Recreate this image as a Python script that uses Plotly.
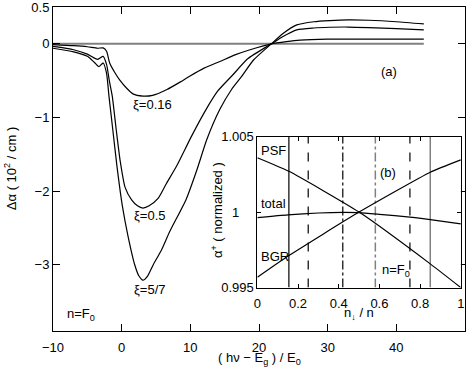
import plotly.graph_objects as go

# ---- main panel (a) data ----
x_57 = [-10, -7, -5, -4, -3.3, -2.7, -2.2, -1.85, -1.3, -0.7, 0.1, 0.9, 1.9, 2.5, 3.1, 3.8, 4.6, 5.8, 7.0, 9.4, 11, 12.4, 14.3, 16, 17.5, 19.2, 21.8, 23.5, 25.5, 28, 30.3, 33, 36, 40, 44]
y_57 = [-0.06, -0.11, -0.17, -0.25, -0.31, -0.26, -0.40, -0.71, -1.16, -1.65, -2.2, -2.6, -3.0, -3.15, -3.21, -3.15, -3.0, -2.8, -2.55, -2.11, -1.7, -1.30, -0.89, -0.62, -0.44, -0.22, 0.0, 0.14, 0.257, 0.30, 0.315, 0.325, 0.32, 0.30, 0.27]

x_05 = [-10, -7, -5, -3.5, -2.7, -2.2, -1.8, -1.37, -0.8, -0.2, 0.5, 1.45, 2.3, 3.1, 4.0, 5.3, 6.5, 8.0, 10.2, 12.3, 14, 16.2, 18.4, 21.8, 23.5, 25.5, 28, 30.3, 33, 36, 40, 44]
y_05 = [-0.035, -0.08, -0.14, -0.21, -0.17, -0.28, -0.5, -0.71, -1.16, -1.6, -1.95, -2.12, -2.2, -2.23, -2.2, -2.1, -1.9, -1.66, -1.25, -0.89, -0.64, -0.42, -0.2, 0.0, 0.1, 0.19, 0.215, 0.225, 0.228, 0.22, 0.205, 0.19]

x_016 = [-10, -7, -5, -3.5, -2.7, -2.2, -1.75, -1, -0.3, 0.7, 1.64, 3.1, 4.5, 6.6, 8.5, 9.9, 12, 14.3, 16.5, 18.7, 21.8, 24, 26, 30, 35, 44]
y_016 = [-0.01, -0.025, -0.04, -0.06, -0.055, -0.1, -0.26, -0.39, -0.49, -0.6, -0.68, -0.71, -0.70, -0.62, -0.52, -0.44, -0.33, -0.24, -0.15, -0.08, 0.0, 0.03, 0.05, 0.063, 0.065, 0.065]

x_zero = [-10, 44]
y_zero = [0, 0]

main_xticks = [-10, 0, 10, 20, 30, 40]
main_yticks = [-3, -2, -1, 0, 0.5]

# ---- inset (b) data ----
x_psf = [0, 0.155, 0.5, 0.85, 1]
y_psf = [1.0036, 1.0027, 1.0, 0.99657, 0.9950]
x_bgr = [0, 0.155, 0.5, 0.85, 1]
y_bgr = [0.99568, 0.99712, 1.0, 1.00264, 1.00346]
x_tot = [0, 0.15, 0.3, 0.42, 0.5, 0.6, 0.75, 0.85, 1]
y_tot = [0.99964, 0.99982, 0.99994, 0.99998, 0.99996, 0.99985, 0.99967, 0.9995, 0.99922]

vlines = [0.155, 0.25, 0.42, 0.58, 0.75, 0.85]
vstyles = [("black", "solid"), ("black", "dash"), ("black", "dashdot"),
           ("#808080", "dashdot"), ("black", "dash"), ("#808080", "solid")]

inset_xticks = [0, 0.2, 0.4, 0.6, 0.8, 1]
inset_xlabels = ["0", "0.2", "0.4", "0.6", "0.8", "1"]
inset_yticks = [0.995, 1.0, 1.005]
inset_ylabels = ["0.995", "1\u00a0\u00a0\u00a0\u00a0", "1.005"]

FONT = "Liberation Sans, Arial, Helvetica, sans-serif"

fig = go.Figure()
fig.add_trace(go.Scatter(x=x_zero, y=y_zero, mode="lines", line=dict(color="#808080", width=2), xaxis="x", yaxis="y"))
for xs, ys in [(x_016, y_016), (x_05, y_05), (x_57, y_57)]:
    fig.add_trace(go.Scatter(x=xs, y=ys, mode="lines", line=dict(color="black", width=1.2, shape="spline", smoothing=0.6), xaxis="x", yaxis="y"))

for v, (c, d) in zip(vlines, vstyles):
    fig.add_trace(go.Scatter(x=[v, v], y=[0.995, 1.005], mode="lines", line=dict(color=c, width=1.5 if c != "black" else 1.2, dash=d), xaxis="x2", yaxis="y2"))
for xs, ys in [(x_psf, y_psf), (x_bgr, y_bgr), (x_tot, y_tot)]:
    fig.add_trace(go.Scatter(x=xs, y=ys, mode="lines", line=dict(color="black", width=1.2, shape="spline", smoothing=0.5), xaxis="x2", yaxis="y2"))

axis_common = dict(showline=True, linecolor="black", linewidth=1, mirror="ticks", ticks="inside", automargin=False,
                   ticklabeloverflow="allow",
                   tickcolor="black", showgrid=False, zeroline=False, tickfont=dict(size=13, color="black", family=FONT))

fig.update_layout(
    width=469, height=374,
    margin=dict(l=53, r=4, t=7, b=43),
    paper_bgcolor="white", plot_bgcolor="white",
    showlegend=False,
    font=dict(family=FONT, size=13, color="black"),
    xaxis=dict(range=[-10, 50], tickvals=main_xticks, ticklen=7, domain=[0, 1], ticklabelstandoff=4, **axis_common),
    yaxis=dict(range=[-3.9, 0.5], tickvals=main_yticks, ticklen=7, domain=[0, 1], **axis_common),
    xaxis2=dict(range=[0, 1.0005], tickvals=inset_xticks, ticktext=inset_xlabels, ticklen=4,
                domain=[0.496, 0.990], anchor="y2", ticklabelstandoff=4, **axis_common),
    yaxis2=dict(range=[0.995, 1.005], tickvals=inset_yticks, ticktext=inset_ylabels, ticklen=4,
                domain=[0.134, 0.600], anchor="x2", **axis_common),
)

ann = [
    dict(text="Δα ( 10<sup>2</sup> / cm )", x=-0.104, y=0.5, xref="paper", yref="paper", textangle=-90),
    dict(text="( hν − E<sub>g</sub> ) / E<sub>0</sub>", x=0.5, y=-0.086, xref="paper", yref="paper"),
    dict(text="α<sup>+</sup> ( normalized )", x=0.398, y=0.373, xref="paper", yref="paper", textangle=-90),
    dict(text="n<sub>↓</sub> / n", x=0.743, y=0.053, xref="paper", yref="paper"),
    dict(text="(a)", x=39.0, y=-0.38, xref="x", yref="y"),
    dict(text="ξ=0.16", x=4.5, y=-0.82, xref="x", yref="y"),
    dict(text="ξ=0.5", x=4.1, y=-2.33, xref="x", yref="y"),
    dict(text="ξ=5/7", x=4.1, y=-3.34, xref="x", yref="y"),
    dict(text="n=F<sub>0</sub>", x=-8.2, y=-3.68, xref="x", yref="y", xanchor="left"),
    dict(text="PSF", x=0.01, y=1.00407, xref="x2", yref="y2", xanchor="left"),
    dict(text="total", x=0.01, y=1.00056, xref="x2", yref="y2", xanchor="left"),
    dict(text="BGR", x=0.01, y=0.99705, xref="x2", yref="y2", xanchor="left"),
    dict(text="(b)", x=0.64, y=1.0026, xref="x2", yref="y2"),
    dict(text="n=F<sub>0</sub>", x=0.605, y=0.99613, xref="x2", yref="y2", xanchor="left"),
]
for a in ann:
    a.setdefault("font", dict(size=13, color="black", family=FONT))
    a.setdefault("xanchor", "center")
    a.setdefault("yanchor", "middle")
    a["showarrow"] = False
fig.update_layout(annotations=ann)

fig.write_html("out.html", config={"displayModeBar": False},
               post_script="document.body.style.margin='0px';document.body.style.padding='0px';")
